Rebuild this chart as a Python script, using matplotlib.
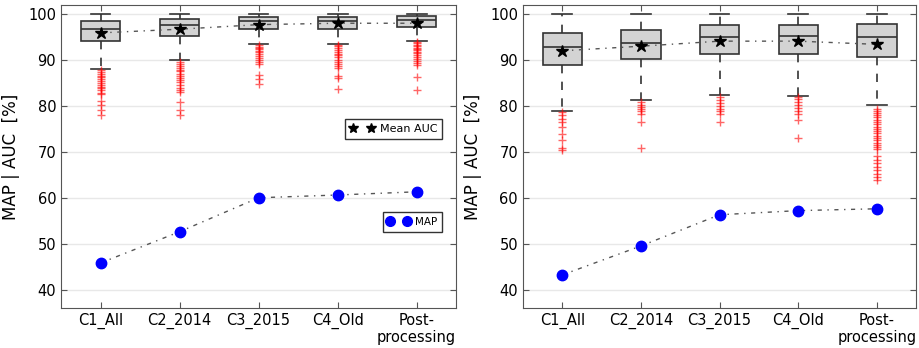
import matplotlib
matplotlib.use("Agg")
import matplotlib.pyplot as plt
from matplotlib.lines import Line2D

categories = ["C1_All", "C2_2014", "C3_2015", "C4_Old", "Post-\nprocessing"]

# left panel: AUC box statistics
left_q1 = [94.2, 95.3, 96.7, 96.7, 97.2]
left_med = [96.7, 97.7, 98.5, 98.4, 98.7]
left_q3 = [98.4, 98.9, 99.3, 99.4, 99.5]
left_lo = [88.1, 90.0, 93.5, 93.5, 94.2]
left_hi = [100.0, 100.0, 100.0, 100.0, 100.0]
left_mean_auc = [95.9, 96.7, 97.7, 98.0, 98.0]
left_map = [45.8, 52.6, 60.0, 60.6, 61.3]
left_fliers = [
    [87.8, 87.4, 87.0, 86.6, 86.2, 85.8, 85.4, 85.0, 84.6, 84.2, 83.8, 83.4, 82.9, 82.6, 81.0, 80.3, 79.2, 78.0],
    [89.5, 89.1, 88.7, 88.3, 87.9, 87.5, 87.0, 86.6, 86.1, 85.6, 85.1, 84.6, 84.0, 83.5, 83.0, 80.8, 79.2, 78.1],
    [93.2, 92.9, 92.6, 92.3, 92.0, 91.7, 91.3, 90.9, 90.5, 90.1, 89.6, 89.2, 86.8, 85.9, 84.8],
    [93.3, 93.0, 92.6, 92.2, 91.8, 91.4, 91.0, 90.6, 90.1, 89.6, 89.1, 88.7, 88.3, 86.6, 86.0, 83.6],
    [93.9, 93.6, 93.3, 93.0, 92.7, 92.4, 92.1, 91.8, 91.5, 91.0, 90.6, 90.2, 89.8, 89.4, 88.8, 86.2, 83.5],
]

# right panel
right_q1 = [89.0, 90.2, 91.4, 91.4, 90.6]
right_med = [92.8, 93.7, 95.1, 95.3, 95.1]
right_q3 = [95.9, 96.5, 97.6, 97.6, 97.8]
right_lo = [79.0, 81.2, 82.4, 82.1, 80.1]
right_hi = [100.0, 100.0, 100.0, 100.0, 100.0]
right_mean_auc = [92.0, 93.0, 94.1, 94.1, 93.4]
right_map = [43.2, 49.5, 56.3, 57.2, 57.6]
right_fliers = [
    [78.7, 78.0, 77.2, 76.5, 75.4, 73.8, 72.5, 70.8, 70.3],
    [80.8, 80.3, 79.8, 79.3, 78.8, 78.3, 76.5, 70.8],
    [81.9, 81.3, 80.6, 80.0, 79.3, 78.8, 78.3, 76.6],
    [81.9, 81.4, 80.8, 80.2, 79.6, 79.0, 78.3, 76.9, 73.1],
    [79.4, 79.0, 78.5, 78.0, 77.5, 77.0, 76.5, 76.0, 75.5, 75.0, 74.5, 74.0, 73.5, 73.0,
     72.5, 72.0, 71.5, 71.0, 70.7, 69.0, 68.3, 67.6, 66.8, 66.0, 65.2, 64.5, 63.9],
]

EDGE = "#333333"
DASHDOT = (0, (3, 4, 1, 4))


def draw_panel(ax, q1, med, q3, lo, hi, fliers, mean_auc, map_vals, legends):
    pos = list(range(1, len(categories) + 1))
    stats = []
    for i in range(len(pos)):
        stats.append(dict(q1=q1[i], med=med[i], q3=q3[i], whislo=lo[i],
                          whishi=hi[i], fliers=fliers[i]))
    ax.bxp(stats, positions=pos, widths=0.5, patch_artist=True, showfliers=True,
           boxprops=dict(facecolor="#d3d3d3", edgecolor=EDGE, linewidth=1.2),
           whiskerprops=dict(color=EDGE, linestyle=(0, (5, 5)), linewidth=1.2),
           capprops=dict(color=EDGE, linewidth=1.2),
           medianprops=dict(color=EDGE, linewidth=1.2),
           flierprops=dict(marker="+", markeredgecolor="red", markersize=6,
                           alpha=0.6, linestyle="none"),
           zorder=2)
    ax.plot(pos, mean_auc, linestyle=DASHDOT, color="#555555", lw=1, zorder=3)
    ax.plot(pos, mean_auc, "*", color="black", ms=9, zorder=4)
    ax.plot(pos, map_vals, linestyle=DASHDOT, color="#555555", lw=1, zorder=3)
    ax.plot(pos, map_vals, "o", color="blue", mec="blue", ms=7.5, zorder=4)

    ax.set_xlim(0.5, 5.5)
    ax.set_ylim(36, 102)
    ax.set_yticks([40, 50, 60, 70, 80, 90, 100])
    ax.set_xticks(pos)
    ax.set_xticklabels(categories, fontsize=10.5)
    ax.tick_params(axis="y", labelsize=10.5)
    ax.tick_params(direction="in", top=True, right=True, length=4, color="#555555")
    ax.yaxis.grid(True, color="#e8e8e8", lw=1)
    ax.set_axisbelow(True)
    for s in ax.spines.values():
        s.set_color("#555555")
    ax.set_ylabel("MAP | AUC  [%]", fontsize=12, labelpad=6)

    if legends:
        h1 = Line2D([], [], marker="*", color="black", ms=7, linestyle="none")
        h2 = Line2D([], [], marker="o", color="blue", mec="blue", ms=7, linestyle="none")
        lg1 = ax.legend([h1], ["Mean AUC"], numpoints=2, loc="center right",
                        bbox_to_anchor=(0.965, 0.59), fancybox=False, fontsize=8,
                        handlelength=2.2, borderpad=0.45, handletextpad=0.5,
                        borderaxespad=0)
        lg1.get_frame().set_edgecolor("black")
        ax.add_artist(lg1)
        lg2 = ax.legend([h2], ["MAP"], numpoints=2, loc="center right",
                        bbox_to_anchor=(0.965, 0.284), fancybox=False, fontsize=7.5,
                        handlelength=2.2, borderpad=0.45, handletextpad=0.5,
                        borderaxespad=0)
        lg2.get_frame().set_edgecolor("black")


fig = plt.figure(figsize=(9.19, 3.48), dpi=100)
ax1 = fig.add_axes([0.0664, 0.115, 0.430, 0.871])
ax2 = fig.add_axes([0.569, 0.115, 0.428, 0.871])
draw_panel(ax1, left_q1, left_med, left_q3, left_lo, left_hi, left_fliers,
           left_mean_auc, left_map, True)
draw_panel(ax2, right_q1, right_med, right_q3, right_lo, right_hi, right_fliers,
           right_mean_auc, right_map, False)
fig.savefig("out.png", dpi=100)
